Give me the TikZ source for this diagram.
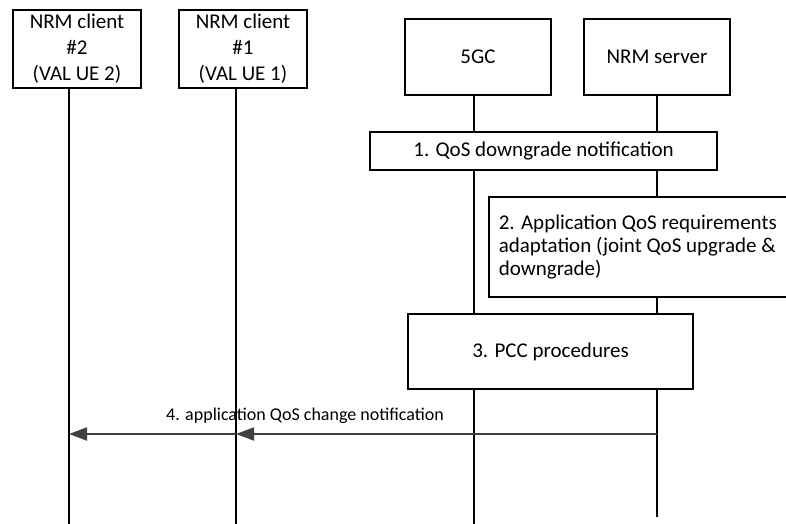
\documentclass[tikz,border=0pt]{standalone}
\usepackage{fontspec}
\setmainfont{Carlito}
\usetikzlibrary{
  arrows.meta,
  positioning,
  calc
}
\definecolor{seqLine}{HTML}{000000}
\definecolor{seqMsg}{HTML}{404040}
\tikzset{
  seqfont/.style={font=\fontsize{21}{26}\selectfont},
  entity/.style={
    draw=seqLine, line width=1.6pt, fill=white, inner sep=0pt,
    align=center, seqfont
  },
  client/.style={entity, minimum width=128pt, minimum height=78pt},
  core/.style={entity, minimum width=146pt, minimum height=76pt},
  stepbox/.style={entity, font=\fontsize{21}{23}\selectfont},
  lifeline/.style={line width=1.6pt, seqLine},
  msg/.style={-{Triangle[length=18pt, width=13pt]}, line width=2pt, seqMsg},
  msglabel/.style={font=\fontsize{18}{22}\selectfont, inner sep=1pt}
}
\begin{document}
\begin{tikzpicture}[x=1pt, y=-1pt]
  \useasboundingbox (0,0) rectangle (786,524);

  % lifelines
  \coordinate (c2life) at (69,88);
  \coordinate (c1life) at (236,88);
  \coordinate (gclife) at (474,95);
  \coordinate (srvlife) at (657,95);
  \draw[lifeline] (c2life) -- (69,524);
  \draw[lifeline] (c1life) -- (236,524);
  \draw[lifeline] (gclife) -- (474,524);
  \draw[lifeline] (srvlife) -- (657,517);

  % entities
  \node[client] (c2) at (77,49) {NRM client\\\#2\\(VAL UE 2)};
  \node[client] (c1) at (243,49) {NRM client\\\#1\\(VAL UE 1)};
  \node[core] (gc) at (478,57) {5GC};
  \node[core] (srv) at (657,57) {NRM server};

  % steps
  \node[stepbox, minimum width=347pt, minimum height=38pt] (s1) at (543.5,151) {1. QoS downgrade notification};
  \node[stepbox, anchor=north west, minimum width=330pt, minimum height=100pt,
        text width=310pt, align=flush left, inner xsep=9pt] (s2) at (488,196)
        {2. Application QoS requirements\\adaptation (joint QoS upgrade \&\\downgrade)};
  \node[stepbox, minimum width=285pt, minimum height=75pt] (s3) at (550.5,351.5) {3. PCC procedures};

  % message 4
  \coordinate (m4) at (657,434);
  \draw[msg] (m4) -- (m4 -| c1life);
  \draw[msg] (m4 -| c1life) -- (m4 -| c2life);
  \node[msglabel] (m4lbl) at (305,416) {4. application QoS change notification};
\end{tikzpicture}
\end{document}
